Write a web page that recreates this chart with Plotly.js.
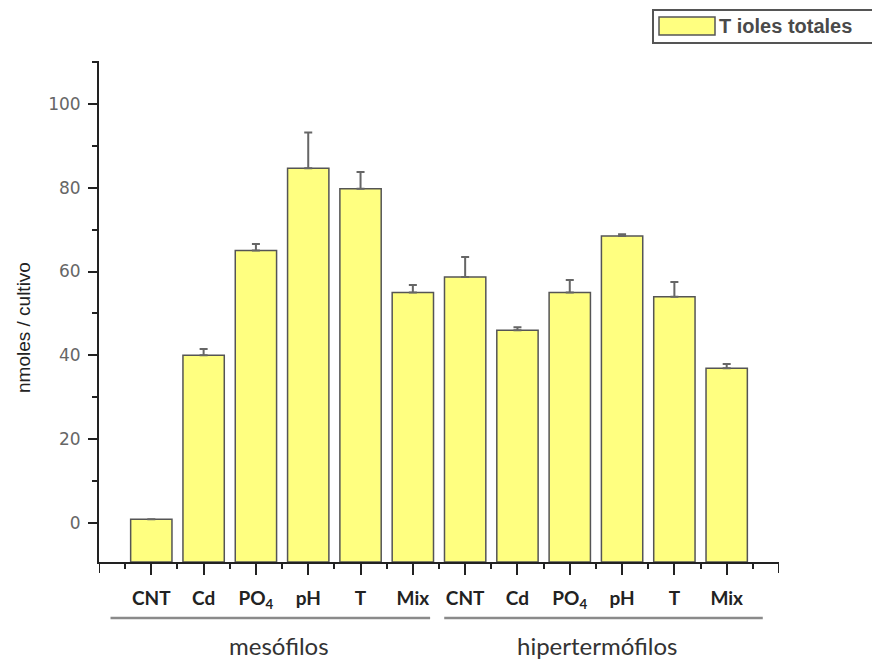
<!DOCTYPE html>
<html>
<head>
<meta charset="utf-8">
<script src="https://cdn.plot.ly/plotly-3.0.1.min.js"></script>
<style>
  html, body { margin: 0; padding: 0; background: #fff; }
  #chart { width: 872px; height: 660px; }
</style>
</head>
<body>
<div id="chart"></div>
<script>
// ---- data ----
const categories = ["CNT", "Cd", "PO<sub>4</sub>", "pH", "T", "Mix",
                    "CNT", "Cd", "PO<sub>4</sub>", "pH", "T", "Mix"];
const groups = ["mesófilos", "hipertermófilos"];
const groupSizes = [6, 6];
const tiolesTotales = [0.8, 40, 65, 84.7, 79.8, 55, 58.7, 46, 55, 68.5, 54, 36.9];
const tiolesError   = [0, 1.5, 1.6, 8.5, 4, 1.8, 4.8, 0.7, 3, 0.4, 3.5, 1];
const seriesName = "T ioles totales";

// ---- layout constants ----
const yMin = -9.4, yMax = 110.3;
const xPos = categories.map((_, i) => i);

const trace = {
  type: "bar",
  x: xPos,
  y: tiolesTotales.map(v => v - yMin),
  base: yMin,
  width: 0.79,
  marker: { color: "#FFFF80", line: { color: "#555555", width: 1.5 } },
  error_y: {
    type: "data", symmetric: false,
    array: tiolesError,
    arrayminus: tiolesError.map(() => 0),
    color: "#666666", thickness: 2, width: 4
  },
  name: seriesName,
  showlegend: false,
  hoverinfo: "skip"
};

const shapes = [];
const annotations = [];
const toPaperY = py => (562 - py) / 501;
const px = x => (x - 99) / 680;

// long ticks at both ends of the x axis
[-1, categories.length].forEach(xv => {
  shapes.push({
    type: "line", xref: "x", yref: "paper", x0: xv, x1: xv,
    y0: 0, y1: toPaperY(573), line: { color: "#222222", width: 2 }
  });
});

// group brackets and labels
let start = 0;
groups.forEach((g, gi) => {
  const end = start + groupSizes[gi] - 1;
  shapes.push({
    type: "line", xref: "x", yref: "paper",
    x0: start - 0.78 + (gi ? 0.38 : 0), x1: end + 0.33 + (gi ? 0.36 : 0),
    y0: toPaperY(618), y1: toPaperY(618),
    line: { color: "#8a8a8a", width: 2.5 }
  });
  annotations.push({
    xref: "x", yref: "paper", x: (start + end) / 2 + (gi ? 0.02 : -0.05), y: toPaperY(645),
    text: g, showarrow: false, xanchor: "center", yanchor: "middle",
    font: { family: "Lato", size: 24, color: "#333333" }
  });
  start = end + 1;
});

// legend (box + swatch + text)
shapes.push({
  type: "rect", xref: "paper", yref: "paper",
  x0: px(653), x1: px(880), y0: toPaperY(43), y1: toPaperY(10),
  line: { color: "#555555", width: 2 }, fillcolor: "rgba(0,0,0,0)"
});
shapes.push({
  type: "rect", xref: "paper", yref: "paper",
  x0: px(659), x1: px(715), y0: toPaperY(35), y1: toPaperY(17),
  line: { color: "#555555", width: 1.5 }, fillcolor: "#FFFF80"
});
annotations.push({
  xref: "paper", yref: "paper", x: px(717), y: toPaperY(26),
  text: "<b>" + seriesName + "</b>", showarrow: false, xanchor: "left", yanchor: "middle",
  font: { family: "Arial", size: 20, color: "#4a4a4a" }
});

// y axis title
annotations.push({
  xref: "paper", yref: "paper", x: px(23), y: toPaperY(328),
  text: "nmoles / cultivo", textangle: -90, showarrow: false,
  xanchor: "center", yanchor: "middle",
  font: { family: "Arial", size: 19, color: "#222222" }
});

const layout = {
  width: 872, height: 660,
  margin: { l: 99, r: 93, t: 61, b: 98 },
  paper_bgcolor: "#ffffff", plot_bgcolor: "#ffffff",
  showlegend: false,
  xaxis: {
    range: [-1, categories.length],
    tickmode: "array", tickvals: xPos, ticktext: categories,
    ticks: "outside", ticklen: 11, tickwidth: 2, tickcolor: "#222222",
    minor: { tickmode: "linear", tick0: -0.5, dtick: 1, ticks: "outside", ticklen: 5, tickwidth: 2, tickcolor: "#222222" },
    showline: true, linecolor: "#222222", linewidth: 2,
    showgrid: false, zeroline: false,
    tickfont: { family: "Lato", size: 19, color: "#222222", weight: "bold" },
    ticklabelstandoff: 7,
    fixedrange: true
  },
  yaxis: {
    range: [yMin, yMax],
    tickmode: "linear", tick0: 0, dtick: 20,
    ticks: "outside", ticklen: 9, tickwidth: 2, tickcolor: "#222222",
    minor: { tickmode: "linear", tick0: 0, dtick: 10, ticks: "outside", ticklen: 5, tickwidth: 2, tickcolor: "#222222" },
    showline: true, linecolor: "#222222", linewidth: 2,
    showgrid: false, zeroline: false,
    tickfont: { family: "DejaVu Sans", size: 17, color: "#666666" },
    ticklabelstandoff: 4,
    fixedrange: true
  },
  shapes: shapes,
  annotations: annotations
};

Plotly.newPlot("chart", [trace], layout, { displayModeBar: false, staticPlot: true });
</script>
</body>
</html>
